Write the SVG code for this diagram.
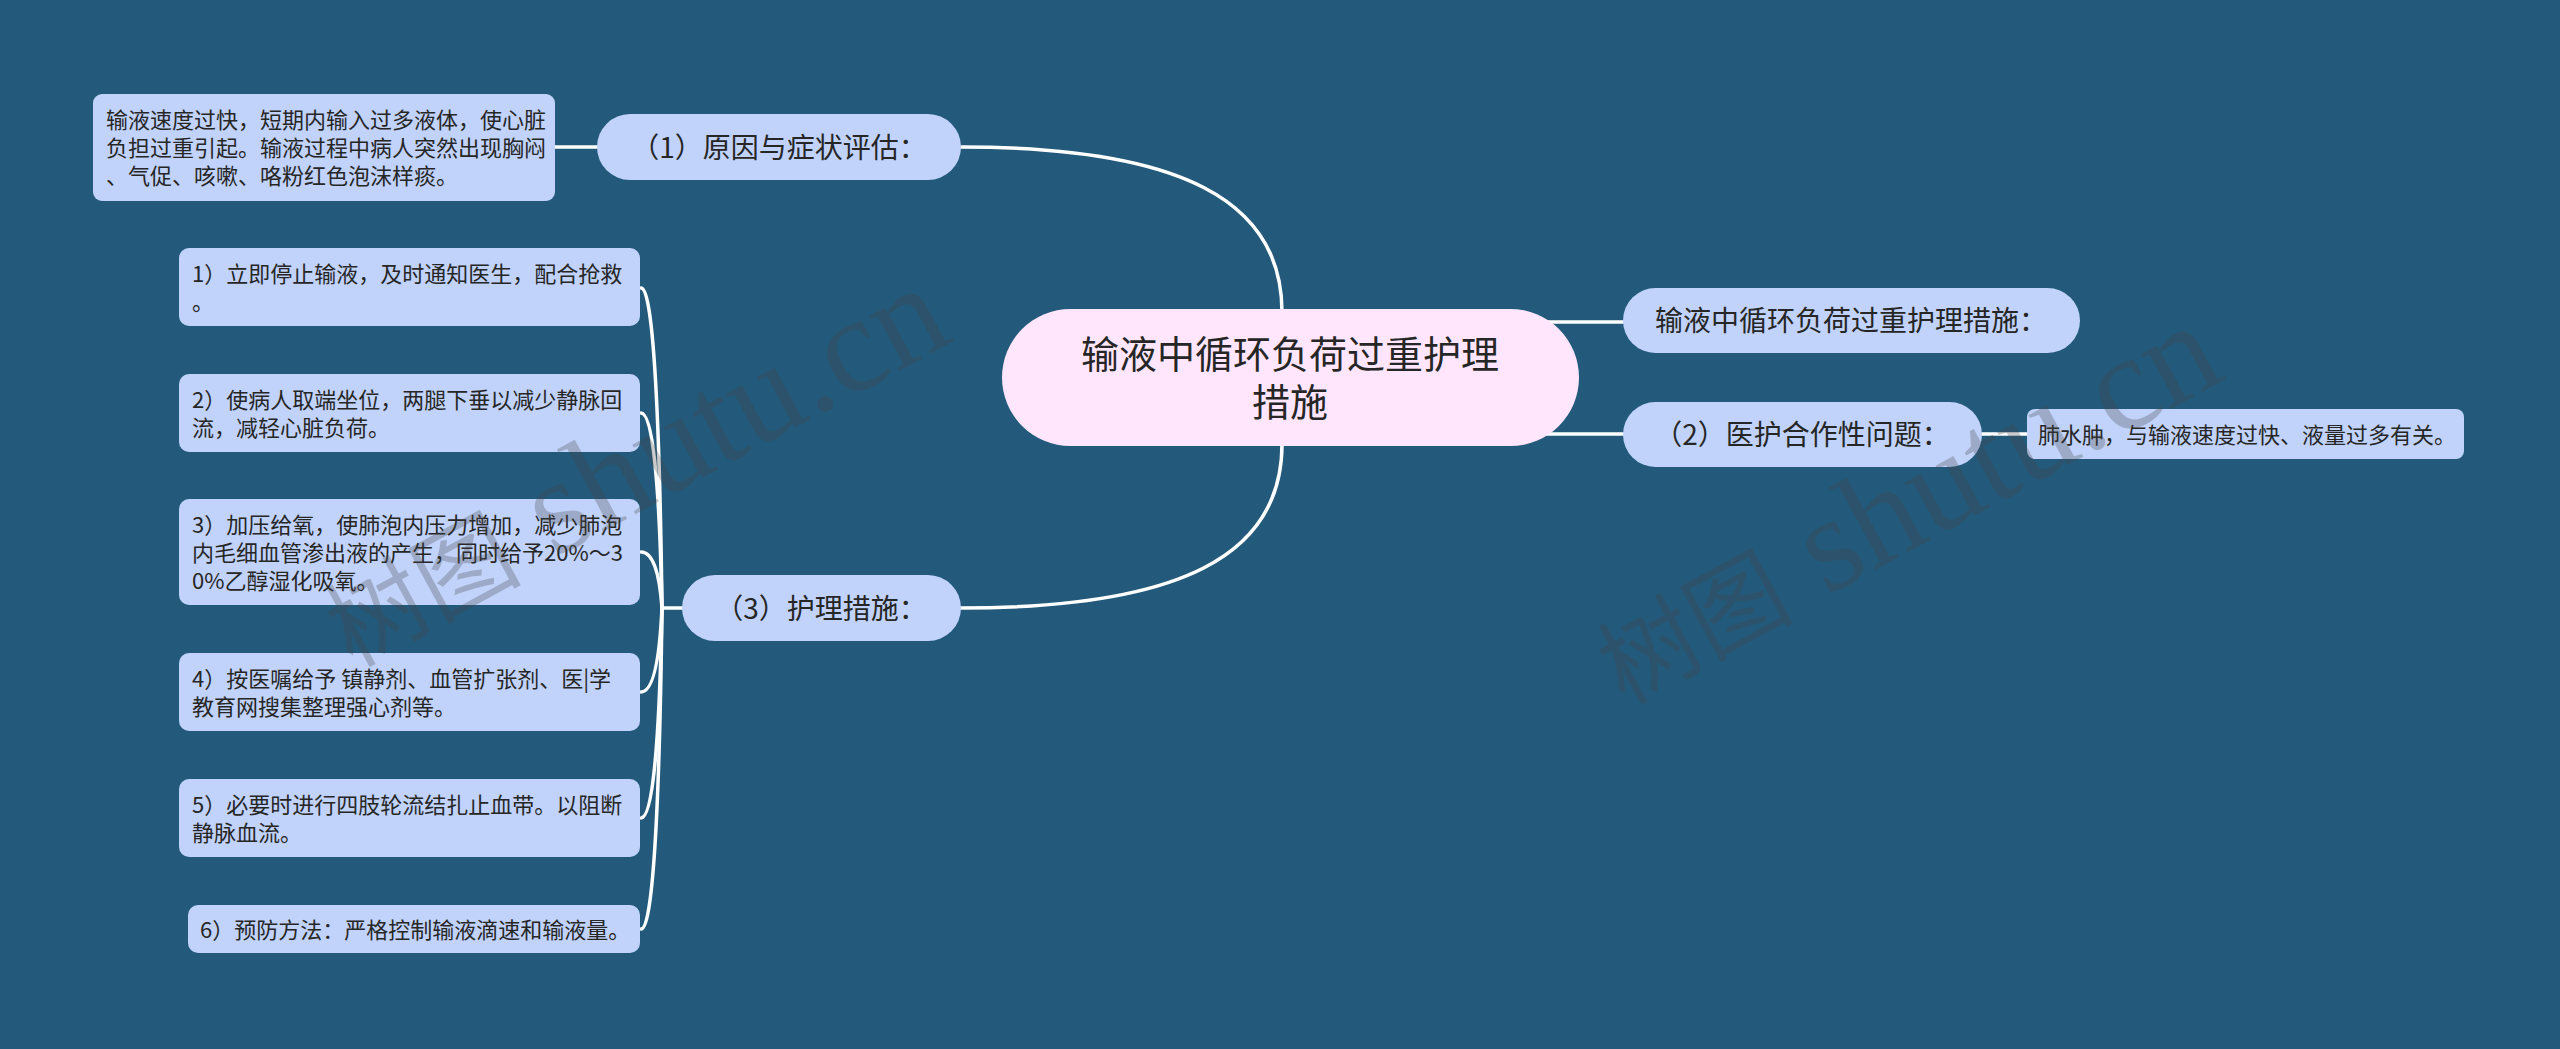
<svg xmlns="http://www.w3.org/2000/svg" width="2560" height="1049" viewBox="0 0 2560 1049">
<style>
.bg{fill:#235a7b}
.pill{fill:#c1d3fb}
.box{fill:#c1d3fb}
.root{fill:#ffe6fc}
.t{font-family:"Noto Sans CJK SC","Noto Sans",sans-serif;fill:#262626}
.s{font-size:22px}
.m{font-size:28px;text-anchor:middle}
.r{font-size:38px;text-anchor:middle}
.ln{fill:none;stroke:#ffffff;stroke-width:3.5;stroke-linecap:round}
.wm{font-family:"Liberation Serif","Noto Sans CJK SC",serif;fill:#444;opacity:0.28}
.wc{font-family:"Noto Sans CJK SC",sans-serif;font-size:98px}
.wl{font-size:136px}
</style>
<rect class="bg" x="0" y="0" width="2560" height="1049"/>
<g id="connectors">
<path class="ln" d="M1282 312 C1282 200 1180 147 961 147"/>
<path class="ln" d="M1282 444 C1282 556 1180 608 961 608"/>
<path class="ln" d="M1540 322 L1623 322"/>
<path class="ln" d="M1540 434 L1623 434"/>
<path class="ln" d="M1982 434 L2027 434"/>
<path class="ln" d="M597 147 L555 147"/>
<path class="ln" d="M682 608 L662 608"/>
<path class="ln" d="M662 608 Q658 288 641 288"/>
<path class="ln" d="M662 608 Q658 413 641 413"/>
<path class="ln" d="M662 608 Q658 552 641 552"/>
<path class="ln" d="M662 608 Q658 692 641 692"/>
<path class="ln" d="M662 608 Q658 818 641 818"/>
<path class="ln" d="M662 608 Q658 929 641 929"/>
</g>
<g id="root">
<rect class="root" x="1002" y="309" width="577" height="137" rx="68.5"/>
<text class="t r" x="1290" y="368">输液中循环负荷过重护理</text>
<text class="t r" x="1290" y="416">措施</text>
</g>
<g id="n1">
<rect class="pill" x="597" y="114" width="364" height="66" rx="33"/>
<text class="t m" x="779" y="157.5">（1）原因与症状评估：</text>
</g>
<g id="n1-leaf">
<rect class="box" x="93" y="94" width="462" height="107" rx="9"/>
<text class="t s" x="106" y="128">输液速度过快，短期内输入过多液体，使心脏</text>
<text class="t s" x="106" y="156">负担过重引起。输液过程中病人突然出现胸闷</text>
<text class="t s" x="106" y="184">、气促、咳嗽、咯粉红色泡沫样痰。</text>
</g>
<g id="n-right1">
<rect class="pill" x="1623" y="288" width="457" height="65" rx="32.5"/>
<text class="t m" x="1851" y="331">输液中循环负荷过重护理措施：</text>
</g>
<g id="n2">
<rect class="pill" x="1623" y="402" width="359" height="65" rx="32.5"/>
<text class="t m" x="1802" y="445">（2）医护合作性问题：</text>
</g>
<g id="n2-leaf">
<rect class="box" x="2027" y="409" width="437" height="50" rx="8"/>
<text class="t s" x="2038" y="442.5">肺水肿，与输液速度过快、液量过多有关。</text>
</g>
<g id="n3">
<rect class="pill" x="682" y="575" width="279" height="66" rx="33"/>
<text class="t m" x="821" y="618.5">（3）护理措施：</text>
</g>
<g id="c1">
<rect class="box" x="179" y="248" width="461" height="78" rx="10"/>
<text class="t s" x="192" y="282">1）立即停止输液，及时通知医生，配合抢救</text>
<text class="t s" x="192" y="310">。</text>
</g>
<g id="c2">
<rect class="box" x="179" y="374" width="461" height="78" rx="10"/>
<text class="t s" x="192" y="408">2）使病人取端坐位，两腿下垂以减少静脉回</text>
<text class="t s" x="192" y="436">流，减轻心脏负荷。</text>
</g>
<g id="c3">
<rect class="box" x="179" y="499" width="461" height="106" rx="10"/>
<text class="t s" x="192" y="533">3）加压给氧，使肺泡内压力增加，减少肺泡</text>
<text class="t s" x="192" y="561">内毛细血管渗出液的产生，同时给予20%～3</text>
<text class="t s" x="192" y="589">0%乙醇湿化吸氧。</text>
</g>
<g id="c4">
<rect class="box" x="179" y="653" width="461" height="78" rx="10"/>
<text class="t s" x="192" y="687">4）按医嘱给予 镇静剂、血管扩张剂、医|学</text>
<text class="t s" x="192" y="715">教育网搜集整理强心剂等。</text>
</g>
<g id="c5">
<rect class="box" x="179" y="779" width="461" height="78" rx="10"/>
<text class="t s" x="192" y="813">5）必要时进行四肢轮流结扎止血带。以阻断</text>
<text class="t s" x="192" y="841">静脉血流。</text>
</g>
<g id="c6">
<rect class="box" x="188" y="905" width="452" height="48" rx="10"/>
<text class="t s" x="200" y="937.5">6）预防方法：严格控制输液滴速和输液量。</text>
</g>
<g id="watermarks">
<text class="wm" transform="translate(352,668) rotate(-28.5)"><tspan class="wc">树图</tspan><tspan class="wl"> shutu.cn</tspan></text>
<text class="wm" transform="translate(1624,706) rotate(-28.5)"><tspan class="wc">树图</tspan><tspan class="wl"> shutu.cn</tspan></text>
</g>
</svg>
